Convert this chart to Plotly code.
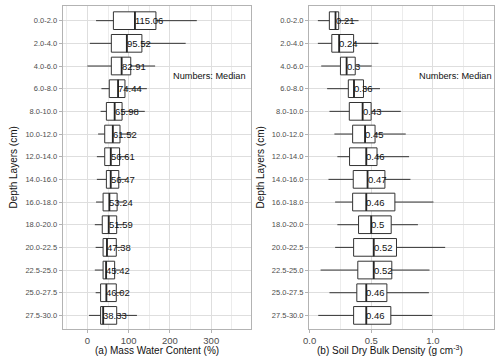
import plotly.graph_objects as go

depth = ["0.0-2.0", "2.0-4.0", "4.0-6.0", "6.0-8.0", "8.0-10.0", "10.0-12.0", "12.0-14.0",
         "14.0-16.0", "16.0-18.0", "18.0-20.0", "20.0-22.5", "22.5-25.0", "25.0-27.5", "27.5-30.0"]

# (a) mass water content (%)
mwc_lo = [21, 6, 0, 34, 32, 26, 23, 23, 21, 18, 20, 18, 20, 4]
mwc_q1 = [63, 58, 58, 53, 46, 42, 42, 46, 38, 36, 38, 38, 32, 32]
mwc_med = [115.06, 95.52, 82.91, 74.44, 65.98, 61.52, 56.61, 56.47, 53.24, 51.59, 47.38, 45.42, 46.02, 38.33]
mwc_q3 = [166, 132, 105, 91, 84, 79, 78, 76, 72, 71, 70, 66, 70, 71]
mwc_hi = [265, 238, 164, 144, 139, 110, 98, 95, 90, 88, 85, 80, 86, 120]

# (b) soil dry bulk density (g cm-3)
bd_lo = [0.067, 0.067, 0.094, 0.142, 0.161, 0.201, 0.225, 0.153, 0.207, 0.225, 0.207, 0.089, 0.161, 0.070]
bd_q1 = [0.16, 0.18, 0.25, 0.314, 0.322, 0.349, 0.324, 0.354, 0.349, 0.397, 0.357, 0.391, 0.383, 0.357]
bd_med = [0.21, 0.24, 0.3, 0.36, 0.43, 0.45, 0.46, 0.47, 0.46, 0.5, 0.52, 0.52, 0.46, 0.46]
bd_q3 = [0.236, 0.357, 0.37, 0.437, 0.499, 0.531, 0.547, 0.611, 0.692, 0.662, 0.705, 0.667, 0.627, 0.659]
bd_hi = [0.397, 0.558, 0.504, 0.571, 0.74, 0.78, 0.807, 0.818, 1.005, 0.879, 1.10, 0.973, 0.968, 0.995]

FONT = "Liberation Sans, Arial, sans-serif"
W, H = 500, 359

fig = go.Figure()

panels = [
    ("x", "y", mwc_lo, mwc_q1, mwc_med, mwc_q3, mwc_hi),
    ("x2", "y2", bd_lo, bd_q1, bd_med, bd_q3, bd_hi),
]
for xa, ya, lo, q1, med, q3, hi in panels:
    fig.add_trace(go.Box(
        y=depth, q1=q1, median=med, q3=q3, lowerfence=lo, upperfence=hi,
        orientation="h", xaxis=xa, yaxis=ya, width=0.78, whiskerwidth=0,
        fillcolor="white", line=dict(color="#333333", width=1),
        boxpoints=False, showlegend=False, hoverinfo="skip"))
    # degenerate box on top to draw a thicker median line (ggplot style)
    fig.add_trace(go.Box(
        y=depth, q1=med, median=med, q3=med, lowerfence=med, upperfence=med,
        orientation="h", xaxis=xa, yaxis=ya, width=0.78, whiskerwidth=0,
        fillcolor="rgba(0,0,0,0)", line=dict(color="#262626", width=1.8),
        boxpoints=False, showlegend=False, hoverinfo="skip"))
    for d, m in zip(depth, med):
        fig.add_annotation(x=m, y=d, xref=xa, yref=ya, text=f"{m:g}", showarrow=False,
                           xanchor="left", yanchor="middle", xshift=-2,
                           font=dict(family=FONT, size=9.5, color="#111111"))

fig.add_annotation(x=203, y=2.43, xref="x", yref="y", text="Numbers: Median", showarrow=False,
                   xanchor="left", yanchor="middle", font=dict(family=FONT, size=9.2, color="#111111"))
fig.add_annotation(x=0.874, y=2.43, xref="x2", yref="y2", text="Numbers: Median", showarrow=False,
                   xanchor="left", yanchor="middle", font=dict(family=FONT, size=9.2, color="#111111"))

# axis titles
title_font = dict(family=FONT, size=10, color="#111111")
fig.add_annotation(x=153 / W, y=1 - 350 / H, xref="paper", yref="paper", showarrow=False,
                   text="(a) Mass Water Content (%)", font=title_font, xanchor="center", yanchor="middle")
fig.add_annotation(x=389 / W, y=1 - 350 / H, xref="paper", yref="paper", showarrow=False,
                   text="(b) Soil Dry Bulk Density (g cm<sup>-3</sup>)", font=title_font,
                   xanchor="center", yanchor="middle")
for xp in (7.5, 257.5):
    fig.add_annotation(x=xp / W, y=1 - 167 / H, xref="paper", yref="paper", showarrow=False,
                       text="Depth Layers (cm)", textangle=-90, font=title_font,
                       xanchor="center", yanchor="middle")

xcommon = dict(showline=True, mirror=True, linecolor="#b3b3b3", linewidth=1,
               ticks="outside", ticklen=3, tickcolor="#b3b3b3", tickwidth=1,
               gridcolor="#dedede", gridwidth=1, zeroline=False,
               tickfont=dict(family=FONT, size=9.5, color="#4d4d4d"))
ycommon = dict(showline=True, mirror=True, linecolor="#b3b3b3", linewidth=1,
               ticks="outside", ticklen=3, tickcolor="#b3b3b3", tickwidth=1,
               gridcolor="#dedede", gridwidth=1, zeroline=False, type="category",
               categoryorder="array", categoryarray=depth, range=[13.6, -0.66],
               tickfont=dict(family=FONT, size=7.5, color="#4d4d4d"))

ytop, ybot = 1 - 5.7 / H, 1 - 329 / H
fig.update_layout(
    width=W, height=H, margin=dict(l=0, r=0, t=0, b=0),
    paper_bgcolor="white", plot_bgcolor="white", boxmode="overlay",
    xaxis=dict(domain=[57.3 / W, 248.3 / W], range=[-60, 397], tick0=0, dtick=100,
               minor=dict(dtick=50, showgrid=True, gridcolor="#ececec"), anchor="y", **xcommon),
    yaxis=dict(domain=[ybot, ytop], anchor="x", **ycommon),
    xaxis2=dict(domain=[306.7 / W, 494 / W], range=[-0.005, 1.497], tick0=0, dtick=0.5,
                tickformat=".1f", minor=dict(dtick=0.25, showgrid=True, gridcolor="#ececec"),
                anchor="y2", **xcommon),
    yaxis2=dict(domain=[ybot, ytop], anchor="x2", **ycommon),
)

fig.write_html("out.html", config={"displayModeBar": False},
               post_script="document.body.style.margin='0';document.body.style.overflow='hidden';")
